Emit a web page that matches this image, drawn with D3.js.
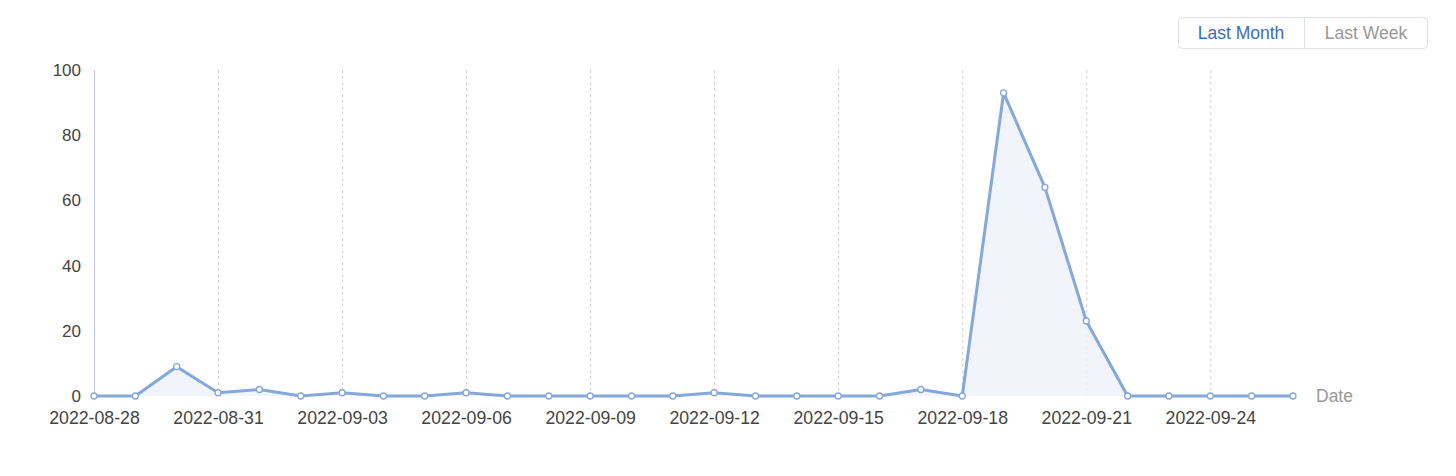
<!DOCTYPE html>
<html><head><meta charset="utf-8">
<script src="https://cdn.jsdelivr.net/npm/d3@7"></script>
<style>
body{margin:0;background:#fff;font-family:"Liberation Sans",Arial,Helvetica,sans-serif;}
</style></head>
<body><svg id="c" width="1456" height="476"></svg>
<script>
const dates = ["2022-08-28","2022-08-29","2022-08-30","2022-08-31","2022-09-01","2022-09-02","2022-09-03","2022-09-04","2022-09-05","2022-09-06","2022-09-07","2022-09-08","2022-09-09","2022-09-10","2022-09-11","2022-09-12","2022-09-13","2022-09-14","2022-09-15","2022-09-16","2022-09-17","2022-09-18","2022-09-19","2022-09-20","2022-09-21","2022-09-22","2022-09-23","2022-09-24","2022-09-25","2022-09-26"];
const values = [0,0,9,1,2,0,1,0,0,1,0,0,0,0,0,1,0,0,0,0,2,0,93,64,23,0,0,0,0,0];
const yTicks = [0,20,40,60,80,100];
const xTickLabels = ["2022-08-28","2022-08-31","2022-09-03","2022-09-06","2022-09-09","2022-09-12","2022-09-15","2022-09-18","2022-09-21","2022-09-24"];
const buttons = ["Last Month","Last Week"];

const svg = d3.select("#c");
const x = d3.scalePoint().domain(dates).range([94,1293]);
const y = d3.scaleLinear().domain([0,100]).range([396,70]);

// grid lines
svg.append("g").selectAll("line").data(xTickLabels.slice(1)).join("line")
  .attr("x1",d=>x(d)+0.5).attr("x2",d=>x(d)+0.5).attr("y1",70).attr("y2",396)
  .attr("stroke","#cfcfcf").attr("stroke-width",1).attr("stroke-dasharray","3,3");

// y axis line
svg.append("line").attr("x1",94.5).attr("x2",94.5).attr("y1",70).attr("y2",396)
  .attr("stroke","#c8c8da").attr("stroke-width",1.2);

// y ticks
const ya = d3.axisLeft(y).tickValues(yTicks).tickSize(0).tickPadding(13);
const yg = svg.append("g").attr("transform","translate(94,0)").call(ya);
yg.select(".domain").remove();
yg.selectAll("text").attr("font-size",17).attr("fill","#444").attr("font-family","Liberation Sans, Arial, sans-serif");

// x ticks
const xa = d3.axisBottom(x).tickValues(xTickLabels).tickSize(0).tickPadding(15);
const xg = svg.append("g").attr("transform","translate(0,396)").call(xa);
xg.select(".domain").remove();
xg.selectAll("text").attr("font-size",17.7).attr("fill","#444").attr("font-family","Liberation Sans, Arial, sans-serif");

// area
const data = dates.map((d,i)=>({d,v:values[i]}));
svg.append("path").datum(data)
  .attr("d",d3.area().x(p=>x(p.d)).y0(y(0)).y1(p=>y(p.v)))
  .attr("fill","#edf3fa").attr("opacity",0.8);
svg.append("path").datum(data)
  .attr("d",d3.line().x(p=>x(p.d)).y(p=>y(p.v)))
  .attr("fill","none").attr("stroke","#84a8d9").attr("stroke-width",3).attr("stroke-linejoin","round");
svg.append("g").selectAll("circle").data(data).join("circle")
  .attr("cx",p=>x(p.d)).attr("cy",p=>y(p.v)).attr("r",3)
  .attr("fill","#fff").attr("stroke","#84a8d9").attr("stroke-width",1.3);

// Date label
svg.append("text").attr("x",1316).attr("y",396).attr("dy","0.35em")
  .attr("font-size",17.5).attr("fill","#999").text("Date");

// buttons
const bg = svg.append("g");
bg.append("rect").attr("x",1178.5).attr("y",17.5).attr("width",249).attr("height",31).attr("rx",4)
  .attr("fill","#fff").attr("stroke","#dcdfe6");
bg.append("line").attr("x1",1304.5).attr("x2",1304.5).attr("y1",17.5).attr("y2",48.5).attr("stroke","#dcdfe6");
bg.selectAll("text").data(buttons).join("text")
  .attr("x",(d,i)=>i===0?1241:1366).attr("y",33).attr("dy","0.35em").attr("text-anchor","middle")
  .attr("font-size",17.5).attr("fill",(d,i)=>i===0?"#3b6cc4":"#999").text(d=>d);
</script></body></html>
